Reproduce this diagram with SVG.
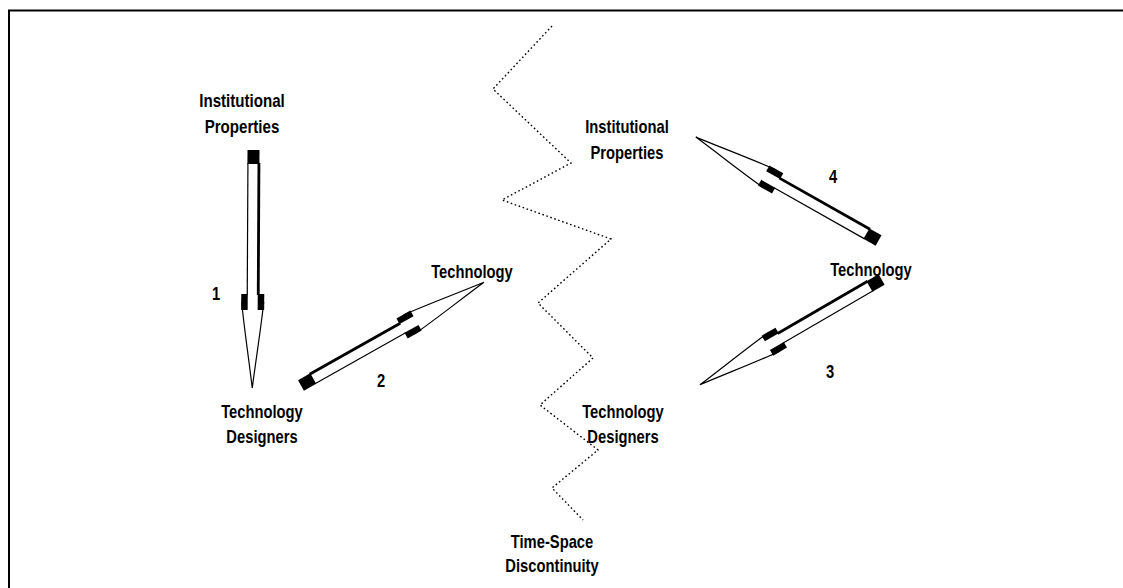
<svg xmlns="http://www.w3.org/2000/svg" width="1123" height="588" viewBox="0 0 1123 588">
  <style>
    .lbl { font-family: "Liberation Sans", Arial, sans-serif; font-weight: bold; font-size: 18px; text-anchor: middle; fill: #000; }
    .frame { stroke: #000; stroke-width: 2; fill: none; }
    .zig { stroke: #000; stroke-width: 1.4; fill: none; stroke-dasharray: 1.6 2.6; stroke-linecap: butt; }
    .cap { fill: #000; }
    .body { fill: #fff; stroke: none; }
    .thin { stroke: #000; stroke-width: 1.2; fill: none; }
    .edge { stroke: #000; stroke-width: 2.8; }
  </style>
  <defs>
    <!-- pencil point: collars start at local x=0, tip at x=94 -->
    <g id="point">
      <path class="body" d="M8,-11 C30,-9 62,-4 94,0 C62,4 30,9 8,11 Z"/>
      <path class="thin" d="M8,-11 C30,-9 62,-4 94,0 C62,4 30,9 8,11"/>
      <rect class="cap" x="0" y="-11.5" width="16" height="6.5"/>
      <rect class="cap" x="0" y="5" width="16" height="6.5"/>
    </g>
    <!-- standard pencil arrow, tail at origin, pointing along +x, 210 long -->
    <g id="pencil">
      <rect class="body" x="13" y="-5.5" width="114" height="11"/>
      <line class="edge" x1="13" y1="-5.5" x2="117" y2="-5.5"/>
      <line class="thin" x1="13" y1="5.5" x2="117" y2="5.5"/>
      <rect class="cap" x="0" y="-6" width="14" height="12"/>
      <use href="#point" transform="translate(116,0)"/>
    </g>
    <!-- longer pencil arrow, 238 long -->
    <g id="pencil-long">
      <rect class="body" x="13" y="-5.5" width="142" height="11"/>
      <line class="edge" x1="13" y1="-5.5" x2="145" y2="-5.5"/>
      <line class="thin" x1="13" y1="5.5" x2="145" y2="5.5"/>
      <rect class="cap" x="0" y="-6" width="14" height="12"/>
      <use href="#point" transform="translate(144,0)"/>
    </g>
  </defs>

  <rect width="1123" height="588" fill="#fff"/>

  <!-- figure frame -->
  <g id="frame">
    <line class="frame" x1="8" y1="10.5" x2="1123" y2="10.5"/>
    <line class="frame" x1="9" y1="10" x2="9" y2="588"/>
  </g>

  <!-- time-space discontinuity line -->
  <g id="discontinuity">
    <polyline class="zig" points="552,26 493,89 571,163 502,200 611,239 538,303 593,358 540,405 598,450 552,488 583,520"/>
    <g class="lbl" transform="translate(552,548) scale(0.82,1)">
      <text x="0" y="0">Time-Space</text>
      <text x="0" y="24">Discontinuity</text>
    </g>
  </g>

  <!-- left side nodes -->
  <g id="inst-left" class="lbl" transform="translate(242,107) scale(0.84,1)">
    <text x="0" y="0">Institutional</text>
    <text x="0" y="26">Properties</text>
  </g>
  <g id="designers-left" class="lbl" transform="translate(262,418) scale(0.82,1)">
    <text x="0" y="0">Technology</text>
    <text x="0" y="25">Designers</text>
  </g>
  <g id="tech-left" class="lbl" transform="translate(472,278) scale(0.82,1)">
    <text x="0" y="0">Technology</text>
  </g>

  <!-- right side nodes -->
  <g id="inst-right" class="lbl" transform="translate(627,133) scale(0.82,1)">
    <text x="0" y="0">Institutional</text>
    <text x="0" y="26">Properties</text>
  </g>
  <g id="tech-right" class="lbl" transform="translate(871,276) scale(0.82,1)">
    <text x="0" y="0">Technology</text>
  </g>
  <g id="designers-right" class="lbl" transform="translate(623,418) scale(0.82,1)">
    <text x="0" y="0">Technology</text>
    <text x="0" y="25">Designers</text>
  </g>

  <!-- connectors -->
  <g id="connectors">
    <use href="#pencil-long" transform="translate(253.5,150) rotate(90.3)"/>
    <use href="#pencil" transform="translate(301,385.4) rotate(-29.4)"/>
    <use href="#pencil" transform="translate(881.6,279.5) rotate(149.9) scale(1,-1)"/>
    <use href="#pencil" transform="translate(878.6,240.5) rotate(-150.5) scale(1,-1)"/>
    <g class="lbl">
      <text transform="translate(216,300) scale(0.82,1)">1</text>
      <text transform="translate(381,387) scale(0.82,1)">2</text>
      <text transform="translate(830,378) scale(0.82,1)">3</text>
      <text transform="translate(833,183) scale(0.82,1)">4</text>
    </g>
  </g>
</svg>
